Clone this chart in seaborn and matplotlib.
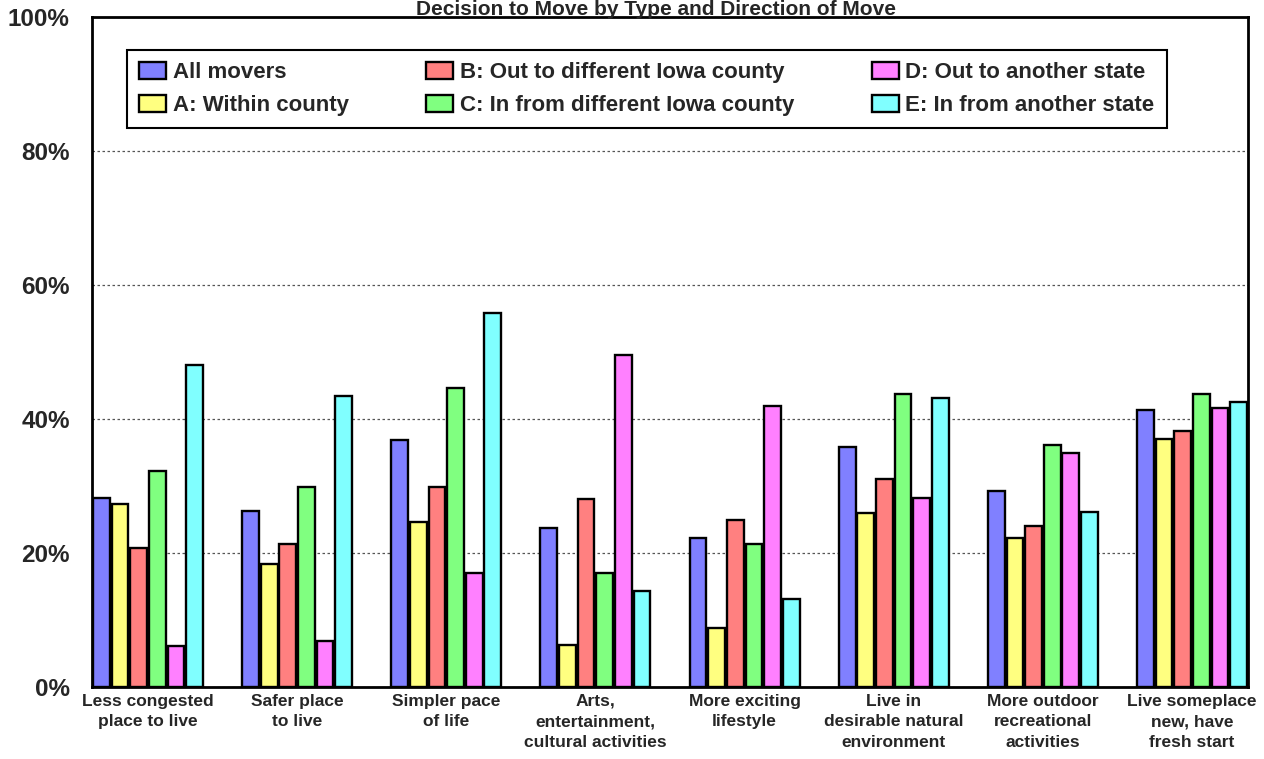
import matplotlib
matplotlib.use("Agg")
import matplotlib.pyplot as plt
import pandas as pd
import seaborn as sns
from matplotlib.ticker import FuncFormatter

reasons = [
    "Less congested\nplace to live",
    "Safer place\nto live",
    "Simpler pace\nof life",
    "Arts,\nentertainment,\ncultural activities",
    "More exciting\nlifestyle",
    "Live in\ndesirable natural\nenvironment",
    "More outdoor\nrecreational\nactivities",
    "Live someplace\nnew, have\nfresh start",
]
series = [
    "All movers",
    "A: Within county",
    "B: Out to different Iowa county",
    "C: In from different Iowa county",
    "D: Out to another state",
    "E: In from another state",
]
all_movers = [28.2, 26.2, 36.8, 23.7, 22.3, 35.8, 29.3, 41.3]
within_county = [27.3, 18.4, 24.7, 6.2, 8.8, 25.9, 22.2, 37.0]
out_county = [20.7, 21.3, 29.9, 28.0, 25.0, 31.0, 24.1, 38.2]
in_county = [32.3, 29.9, 44.7, 17.0, 21.4, 43.8, 36.1, 43.8]
out_state = [6.1, 6.8, 17.0, 49.5, 41.9, 28.2, 35.0, 41.7]
in_state = [48.0, 43.5, 55.8, 14.4, 13.1, 43.1, 26.1, 42.5]
colors = ["#8080FF", "#FFFF80", "#FF8080", "#80FF80", "#FF80FF", "#80FFFF"]

wide = pd.DataFrame(
    dict(zip(series, [all_movers, within_county, out_county, in_county, out_state, in_state])),
    index=reasons,
)
data = wide.reset_index(names="reason").melt(id_vars="reason", var_name="group", value_name="pct")

sns.set_style("white")
plt.rcParams["font.family"] = ["Liberation Sans", "DejaVu Sans"]

fig = plt.figure(figsize=(12.64, 7.59), dpi=100)
ax = fig.add_axes([92 / 1264, 1 - 687 / 759, (1248 - 92) / 1264, (687 - 17) / 759])

sns.barplot(
    data=data, x="reason", y="pct", hue="group", order=reasons, hue_order=series,
    palette=colors, width=0.75, gap=0.1, edgecolor="black", linewidth=1.7,
    saturation=1, ax=ax,
)

ax.set_xlim(-0.375, 7.375)
ax.set_ylim(0, 100)
ax.set_yticks(range(0, 101, 20))
ax.yaxis.set_major_formatter(FuncFormatter(lambda v, _: f"{v:.0f}%"))
ax.set_axisbelow(True)
ax.yaxis.grid(True, linestyle=(0, (2, 2)), color="#555555", linewidth=0.9)
for s in ax.spines.values():
    s.set_visible(True)
    s.set_color("black")
    s.set_linewidth(2)
ax.set_xlabel("")
ax.set_ylabel("")
ax.tick_params(axis="y", length=0, pad=16, labelsize=17.5)
ax.tick_params(axis="x", length=0, pad=5, labelsize=12.5)
for t in ax.get_yticklabels():
    t.set_fontweight("bold")
for t in ax.get_xticklabels():
    t.set_fontweight("bold")
    t.set_linespacing(1.45)

leg = ax.legend(
    ncol=3, loc="upper left", bbox_to_anchor=(0.0303, 0.9507), borderaxespad=0,
    frameon=True, fancybox=False, framealpha=1, edgecolor="black",
    prop={"weight": "bold", "size": 16}, handlelength=1.2, handleheight=0.8,
    handletextpad=0.3, columnspacing=3.5, borderpad=0.55, labelspacing=0.5,
)
leg.get_frame().set_linewidth(1.5)

fig.text(656 / 1264, 1 - 15 / 759, "Decision to Move by Type and Direction of Move",
         ha="center", va="baseline", fontsize=15, fontweight="bold")

fig.savefig("out.png", dpi=100)
